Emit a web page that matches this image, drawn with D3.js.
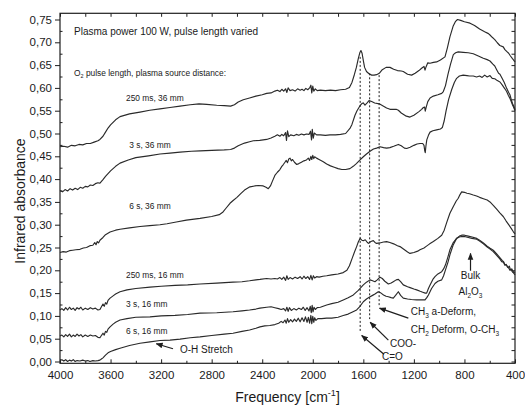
<!DOCTYPE html>
<html>
<head>
<meta charset="utf-8">
<script src="https://cdn.jsdelivr.net/npm/d3@7"></script>
<style>
  body { margin: 0; background: #fff; }
  svg { display: block; }
  text { font-family: "Liberation Sans", Arial, Helvetica, sans-serif; fill: #1a1a1a; }
</style>
</head>
<body>
<svg id="chart" width="525" height="408"></svg>
<script>
// ---- axis ticks ----
const freqMajor = [4000, 3600, 3200, 2800, 2400, 2000, 1600, 1200, 800, 400];
const freqMinor = [3800, 3400, 3000, 2600, 2200, 1800, 1400, 1000, 600];
const absMajor = [0, 0.05, 0.10, 0.15, 0.20, 0.25, 0.30, 0.35, 0.40, 0.45, 0.50, 0.55, 0.60, 0.65, 0.70, 0.75];
const absMinor = [0.025, 0.075, 0.125, 0.175, 0.225, 0.275, 0.325, 0.375, 0.425, 0.475, 0.525, 0.575, 0.625, 0.675, 0.725];

// ---- spectra: [wavenumber cm-1, absorbance] ----
const spec250ms36mm = [
[4000,0.471],[3970,0.472],[3940,0.470],[3910,0.474],[3880,0.473],[3850,0.476],[3820,0.475],[3790,0.478],[3760,0.478],[3730,0.481],[3700,0.484],[3684,0.487],[3660,0.494],[3640,0.503],[3620,0.512],[3600,0.519],[3560,0.530],[3525,0.537],[3450,0.543],[3367,0.547],[3290,0.551],[3209,0.554],[3130,0.557],[3050,0.560],[2970,0.563],[2900,0.565],[2840,0.564],[2760,0.562],[2700,0.561],[2650,0.560],[2620,0.563],[2590,0.569],[2550,0.574],[2500,0.578],[2450,0.582],[2400,0.585],[2365,0.588],[2330,0.589],[2300,0.593],[2280,0.595],[2260,0.592],[2245,0.597],[2230,0.593],[2215,0.598],[2205,0.590],[2195,0.600],[2180,0.594],[2160,0.596],[2140,0.593],[2120,0.598],[2100,0.595],[2085,0.597],[2070,0.594],[2055,0.599],[2040,0.596],[2025,0.600],[2015,0.606],[2008,0.589],[2000,0.604],[1992,0.593],[1980,0.598],[1965,0.594],[1940,0.595],[1900,0.594],[1860,0.595],[1820,0.594],[1780,0.596],[1740,0.597],[1710,0.601],[1690,0.612],[1670,0.630],[1655,0.645],[1640,0.664],[1628,0.677],[1619,0.682],[1610,0.676],[1600,0.660],[1590,0.645],[1575,0.636],[1555,0.631],[1534,0.628],[1515,0.628],[1495,0.629],[1474,0.632],[1450,0.640],[1420,0.645],[1389,0.645],[1360,0.641],[1330,0.638],[1300,0.637],[1284,0.636],[1250,0.630],[1218,0.628],[1190,0.632],[1160,0.638],[1139,0.643],[1120,0.647],[1112,0.639],[1104,0.646],[1090,0.655],[1072,0.654],[1045,0.656],[1020,0.657],[990,0.661],[954,0.668],[935,0.688],[915,0.712],[890,0.735],[870,0.746],[855,0.750],[830,0.748],[800,0.745],[756,0.742],[720,0.737],[680,0.729],[640,0.723],[610,0.719],[598,0.716],[580,0.711],[560,0.706],[540,0.699],[520,0.693],[493,0.690],[480,0.684],[466,0.680],[450,0.676],[436,0.670],[420,0.664],[408,0.660],[400,0.657]
];
const spec3s36mm = [
[4000,0.375],[3980,0.372],[3960,0.377],[3940,0.374],[3920,0.379],[3900,0.376],[3880,0.380],[3860,0.377],[3840,0.382],[3820,0.380],[3800,0.384],[3780,0.383],[3760,0.387],[3740,0.386],[3720,0.390],[3700,0.392],[3684,0.391],[3660,0.399],[3640,0.406],[3620,0.412],[3600,0.418],[3560,0.428],[3525,0.435],[3460,0.442],[3400,0.447],[3300,0.451],[3209,0.455],[3130,0.457],[3050,0.459],[2960,0.461],[2892,0.462],[2800,0.463],[2700,0.464],[2650,0.465],[2620,0.468],[2590,0.473],[2540,0.479],[2500,0.482],[2470,0.484],[2420,0.485],[2365,0.487],[2330,0.490],[2300,0.494],[2280,0.497],[2260,0.494],[2245,0.498],[2230,0.495],[2215,0.502],[2208,0.485],[2200,0.506],[2190,0.493],[2175,0.497],[2150,0.495],[2130,0.498],[2110,0.496],[2090,0.499],[2070,0.497],[2050,0.499],[2030,0.498],[2018,0.505],[2010,0.486],[2004,0.509],[1996,0.490],[1988,0.501],[1970,0.497],[1940,0.497],[1900,0.496],[1864,0.497],[1820,0.497],[1780,0.498],[1740,0.500],[1706,0.511],[1690,0.520],[1666,0.540],[1650,0.550],[1626,0.561],[1610,0.566],[1600,0.567],[1587,0.562],[1570,0.567],[1555,0.572],[1534,0.570],[1510,0.567],[1474,0.565],[1440,0.560],[1416,0.556],[1389,0.553],[1363,0.553],[1340,0.553],[1323,0.551],[1300,0.545],[1260,0.538],[1231,0.536],[1200,0.540],[1160,0.548],[1139,0.553],[1125,0.557],[1115,0.558],[1110,0.549],[1104,0.556],[1090,0.570],[1072,0.578],[1046,0.582],[1010,0.585],[980,0.588],[967,0.592],[950,0.605],[930,0.630],[910,0.652],[888,0.673],[870,0.677],[849,0.679],[810,0.678],[770,0.677],[730,0.675],[690,0.670],[651,0.665],[620,0.662],[598,0.659],[575,0.652],[560,0.648],[545,0.640],[530,0.632],[519,0.630],[500,0.620],[485,0.612],[466,0.599],[450,0.590],[440,0.585],[430,0.575],[420,0.566],[410,0.560],[400,0.552]
];
const spec6s36mm = [
[4000,0.239],[3975,0.241],[3950,0.240],[3925,0.243],[3900,0.244],[3875,0.245],[3842,0.246],[3815,0.249],[3790,0.250],[3763,0.254],[3740,0.255],[3725,0.261],[3715,0.256],[3705,0.263],[3695,0.260],[3684,0.266],[3660,0.272],[3640,0.278],[3604,0.284],[3560,0.288],[3525,0.290],[3450,0.293],[3367,0.296],[3290,0.298],[3209,0.300],[3153,0.302],[3080,0.306],[3000,0.310],[2892,0.314],[2800,0.318],[2740,0.322],[2710,0.328],[2690,0.335],[2655,0.347],[2630,0.353],[2600,0.360],[2570,0.368],[2540,0.376],[2497,0.383],[2460,0.385],[2430,0.386],[2392,0.385],[2370,0.382],[2352,0.379],[2335,0.385],[2320,0.395],[2300,0.408],[2280,0.415],[2260,0.421],[2245,0.428],[2233,0.432],[2220,0.437],[2210,0.441],[2200,0.436],[2190,0.444],[2180,0.446],[2170,0.440],[2160,0.443],[2145,0.437],[2127,0.432],[2110,0.434],[2090,0.437],[2070,0.440],[2050,0.442],[2035,0.446],[2025,0.441],[2015,0.450],[2008,0.443],[2000,0.452],[1992,0.445],[1985,0.449],[1970,0.446],[1950,0.443],[1917,0.438],[1890,0.433],[1860,0.429],[1830,0.426],[1800,0.423],[1770,0.421],[1740,0.421],[1706,0.423],[1680,0.428],[1655,0.434],[1626,0.442],[1600,0.449],[1575,0.455],[1547,0.461],[1520,0.466],[1495,0.468],[1468,0.471],[1440,0.469],[1416,0.468],[1390,0.469],[1360,0.472],[1323,0.476],[1300,0.473],[1275,0.468],[1257,0.467],[1230,0.470],[1200,0.474],[1175,0.477],[1152,0.478],[1130,0.478],[1120,0.474],[1114,0.462],[1110,0.458],[1105,0.472],[1098,0.486],[1085,0.496],[1072,0.503],[1050,0.506],[1020,0.508],[990,0.510],[975,0.513],[960,0.528],[945,0.550],[925,0.575],[900,0.597],[880,0.612],[862,0.621],[840,0.626],[810,0.628],[780,0.627],[760,0.626],[730,0.626],[704,0.624],[680,0.626],[660,0.623],[640,0.628],[620,0.624],[598,0.627],[580,0.621],[560,0.620],[540,0.616],[519,0.613],[500,0.606],[480,0.598],[466,0.592],[453,0.584],[440,0.577],[430,0.570],[420,0.563],[410,0.557],[400,0.550]
];
const spec250ms16mm = [
[4000,0.113],[3985,0.116],[3970,0.112],[3955,0.118],[3940,0.113],[3925,0.119],[3910,0.114],[3895,0.117],[3880,0.112],[3865,0.118],[3850,0.115],[3835,0.119],[3820,0.113],[3800,0.117],[3780,0.114],[3760,0.118],[3740,0.115],[3720,0.117],[3700,0.113],[3684,0.114],[3670,0.121],[3660,0.126],[3650,0.121],[3640,0.129],[3630,0.126],[3620,0.134],[3604,0.139],[3580,0.144],[3560,0.148],[3525,0.153],[3470,0.157],[3400,0.160],[3288,0.163],[3200,0.165],[3090,0.167],[2990,0.168],[2892,0.170],[2760,0.172],[2631,0.174],[2560,0.175],[2500,0.177],[2450,0.179],[2418,0.180],[2365,0.182],[2330,0.181],[2300,0.182],[2280,0.181],[2260,0.184],[2245,0.180],[2230,0.185],[2215,0.178],[2205,0.188],[2195,0.180],[2180,0.184],[2160,0.181],[2140,0.185],[2120,0.182],[2100,0.186],[2085,0.181],[2070,0.187],[2055,0.182],[2040,0.186],[2025,0.180],[2015,0.189],[2005,0.179],[1995,0.188],[1985,0.183],[1970,0.186],[1950,0.185],[1920,0.187],[1890,0.188],[1850,0.190],[1800,0.192],[1759,0.195],[1730,0.200],[1710,0.210],[1690,0.225],[1670,0.240],[1653,0.252],[1640,0.262],[1626,0.270],[1612,0.266],[1600,0.265],[1585,0.267],[1570,0.262],[1560,0.259],[1540,0.263],[1521,0.265],[1508,0.261],[1495,0.259],[1470,0.260],[1440,0.262],[1416,0.263],[1390,0.261],[1360,0.258],[1330,0.254],[1310,0.252],[1280,0.246],[1250,0.240],[1231,0.237],[1200,0.239],[1170,0.242],[1152,0.245],[1120,0.249],[1100,0.253],[1075,0.258],[1046,0.263],[1010,0.270],[980,0.277],[960,0.288],[940,0.305],[915,0.325],[888,0.340],[865,0.352],[849,0.358],[835,0.366],[822,0.372],[800,0.371],[780,0.369],[760,0.368],[730,0.365],[704,0.363],[680,0.360],[650,0.357],[620,0.354],[598,0.350],[570,0.342],[545,0.334],[520,0.326],[493,0.318],[470,0.308],[450,0.300],[430,0.292],[414,0.285],[400,0.280]
];
const spec3s16mm = [
[4000,0.056],[3985,0.058],[3970,0.054],[3955,0.059],[3940,0.055],[3925,0.060],[3910,0.054],[3895,0.058],[3880,0.055],[3865,0.060],[3850,0.056],[3835,0.059],[3820,0.054],[3800,0.058],[3780,0.055],[3760,0.058],[3740,0.056],[3720,0.057],[3700,0.053],[3684,0.052],[3670,0.058],[3660,0.062],[3650,0.058],[3640,0.066],[3630,0.064],[3620,0.071],[3604,0.076],[3580,0.082],[3560,0.086],[3525,0.091],[3470,0.094],[3400,0.097],[3288,0.098],[3200,0.100],[3090,0.101],[2990,0.103],[2892,0.106],[2760,0.107],[2631,0.109],[2560,0.111],[2500,0.113],[2450,0.115],[2418,0.117],[2365,0.119],[2330,0.120],[2300,0.118],[2270,0.116],[2250,0.114],[2230,0.116],[2215,0.111],[2205,0.119],[2195,0.110],[2185,0.118],[2170,0.112],[2150,0.116],[2130,0.113],[2110,0.117],[2090,0.114],[2075,0.119],[2060,0.112],[2045,0.118],[2030,0.111],[2020,0.121],[2012,0.107],[2005,0.123],[1998,0.109],[1990,0.119],[1980,0.114],[1965,0.118],[1940,0.119],[1890,0.124],[1850,0.127],[1800,0.130],[1759,0.135],[1720,0.140],[1679,0.146],[1640,0.156],[1620,0.162],[1600,0.168],[1575,0.174],[1547,0.179],[1527,0.177],[1508,0.175],[1490,0.179],[1468,0.185],[1450,0.182],[1430,0.176],[1402,0.170],[1380,0.172],[1363,0.175],[1340,0.179],[1323,0.180],[1305,0.175],[1284,0.168],[1250,0.164],[1230,0.162],[1200,0.159],[1178,0.157],[1150,0.154],[1130,0.152],[1110,0.150],[1099,0.150],[1085,0.160],[1072,0.168],[1050,0.180],[1033,0.186],[1010,0.192],[980,0.197],[965,0.203],[950,0.212],[930,0.230],[915,0.245],[890,0.260],[862,0.270],[840,0.275],[822,0.277],[800,0.277],[770,0.275],[740,0.273],[703,0.270],[680,0.266],[650,0.260],[620,0.253],[600,0.249],[572,0.244],[545,0.236],[520,0.228],[500,0.221],[490,0.219],[480,0.213],[466,0.211],[455,0.206],[445,0.209],[435,0.201],[425,0.203],[413,0.197],[400,0.195]
];
const spec6s16mm = [
[4000,0.002],[3985,0.004],[3970,0.001],[3955,0.004],[3940,0.000],[3925,0.003],[3910,0.001],[3895,0.004],[3880,0.000],[3865,0.002],[3842,0.001],[3820,0.003],[3800,0.001],[3780,0.002],[3763,0.000],[3740,0.002],[3720,0.001],[3700,0.002],[3684,0.003],[3670,0.006],[3660,0.008],[3640,0.014],[3620,0.019],[3600,0.022],[3560,0.026],[3525,0.029],[3450,0.035],[3367,0.040],[3288,0.043],[3209,0.046],[3130,0.047],[3050,0.049],[2970,0.052],[2892,0.054],[2800,0.057],[2700,0.060],[2631,0.062],[2560,0.066],[2500,0.069],[2450,0.073],[2418,0.076],[2380,0.078],[2340,0.079],[2300,0.081],[2270,0.084],[2250,0.088],[2235,0.085],[2220,0.091],[2210,0.084],[2200,0.094],[2190,0.086],[2175,0.092],[2160,0.087],[2145,0.093],[2130,0.088],[2115,0.095],[2100,0.087],[2085,0.096],[2070,0.088],[2058,0.098],[2045,0.086],[2035,0.097],[2025,0.084],[2015,0.101],[2008,0.083],[2000,0.099],[1992,0.086],[1985,0.096],[1975,0.090],[1960,0.094],[1930,0.094],[1890,0.095],[1850,0.095],[1800,0.097],[1759,0.101],[1720,0.104],[1690,0.108],[1653,0.113],[1630,0.120],[1600,0.131],[1575,0.137],[1547,0.142],[1527,0.145],[1508,0.148],[1482,0.153],[1460,0.150],[1440,0.146],[1420,0.143],[1402,0.142],[1380,0.140],[1363,0.139],[1345,0.145],[1323,0.153],[1305,0.145],[1284,0.139],[1250,0.137],[1220,0.136],[1178,0.135],[1140,0.135],[1112,0.135],[1098,0.140],[1085,0.146],[1060,0.160],[1033,0.171],[1010,0.176],[980,0.179],[965,0.188],[950,0.201],[930,0.218],[915,0.234],[890,0.255],[862,0.270],[840,0.273],[822,0.274],[800,0.274],[770,0.272],[740,0.270],[703,0.268],[680,0.264],[650,0.258],[620,0.251],[600,0.247],[572,0.241],[545,0.233],[520,0.225],[505,0.219],[493,0.218],[480,0.211],[470,0.213],[460,0.207],[450,0.205],[440,0.200],[430,0.202],[420,0.196],[413,0.195],[400,0.190]
];

// series names drawn next to each trace, with their label anchor [cm-1, absorbance]
const seriesNames = ["250 ms, 36 mm", "3 s, 36 mm", "6 s, 36 mm", "250 ms, 16 mm", "3 s, 16 mm", "6 s, 16 mm"];
const seriesData = [spec250ms36mm, spec3s36mm, spec6s36mm, spec250ms16mm, spec3s16mm, spec6s16mm];
const seriesLabelAt = [[3478, 0.572], [3452, 0.4675], [3452, 0.334], [3478, 0.1825], [3478, 0.119], [3478, 0.0605]];

// band positions marked with dotted lines (cm-1) and their vertical extent
const bandFreqs = [1625, 1550, 1475];
const bandTop = [0.668, 0.632, 0.628];
const bandBottom = [0.063, 0.093, 0.122];

// assignment arrows: [from, to] in [cm-1, absorbance]
const assignArrows = [
  [[1437, 0.016], [1613, 0.057]],   // C=O
  [[1402, 0.047], [1546, 0.086]],   // COO-
  [[1244, 0.095], [1472, 0.117]],   // CH3 / CH2 deformations
  [[752, 0.199], [752, 0.237]],     // bulk Al2O3
  [[3106, 0.028], [3238, 0.039]]    // O-H stretch
];

// ---- layout ----
const svg = d3.select("#chart");
const plotL = 60, plotR = 515, plotT = 13.3, plotB = 363.3;
const x = d3.scaleLinear().domain([4000, 400]).range([plotL, plotR]);
const y = d3.scaleLinear().domain([0, 0.75]).range([361.5, 19.5]);
const ink = "#1e1e1e";
const fmtAbs = d3.formatLocale({decimal: ",", thousands: ".", grouping: [3], currency: ["", ""]}).format(".2f");

function styleAxis(g) {
  g.select(".domain").remove();
  g.selectAll(".tick line").attr("stroke", ink).attr("stroke-width", 1);
  g.attr("font-family", null).attr("font-size", null);
  g.selectAll(".tick text").attr("fill", ink).attr("font-size", 11.5);
}

// bottom axis (inward ticks)
svg.append("g").attr("transform", `translate(0,${plotB})`)
  .call(d3.axisBottom(x).tickValues(freqMajor).tickSize(-4).tickPadding(8).tickFormat(d3.format("d")))
  .call(styleAxis);
svg.append("g").attr("transform", `translate(0,${plotB})`)
  .call(d3.axisBottom(x).tickValues(freqMinor).tickSize(-2.5).tickFormat(""))
  .call(styleAxis);
// top axis
svg.append("g").attr("transform", `translate(0,${plotT})`)
  .call(d3.axisTop(x).tickValues(freqMajor.concat(freqMinor)).tickSize(-3.5).tickFormat(""))
  .call(styleAxis);
// left axis (major out, minor in)
svg.append("g").attr("transform", `translate(${plotL},0)`)
  .call(d3.axisLeft(y).tickValues(absMajor).tickSize(5).tickPadding(3).tickFormat(fmtAbs))
  .call(styleAxis);
svg.append("g").attr("transform", `translate(${plotL},0)`)
  .call(d3.axisLeft(y).tickValues(absMinor).tickSize(-2.5).tickFormat(""))
  .call(styleAxis);
// right axis
svg.append("g").attr("transform", `translate(${plotR},0)`)
  .call(d3.axisRight(y).tickValues(absMajor.concat(absMinor)).tickSize(-3.5).tickFormat(""))
  .call(styleAxis);

// frame
svg.append("rect").attr("x", plotL).attr("y", plotT)
  .attr("width", plotR - plotL).attr("height", plotB - plotT)
  .attr("fill", "none").attr("stroke", ink).attr("stroke-width", 1.2);

// spectra
const line = d3.line().x(d => x(d[0])).y(d => y(d[1]));
svg.append("g").selectAll("path").data(seriesData).join("path")
  .attr("d", line)
  .attr("fill", "none").attr("stroke", "#2a2a2a").attr("stroke-width", 1.15)
  .attr("stroke-linejoin", "round");

// dotted band markers
svg.append("g").selectAll("line").data(bandFreqs).join("line")
  .attr("x1", d => x(d)).attr("x2", d => x(d))
  .attr("y1", (d, i) => y(bandTop[i])).attr("y2", (d, i) => y(bandBottom[i]))
  .attr("stroke", ink).attr("stroke-width", 1).attr("stroke-dasharray", "2,2");

// arrowhead marker
svg.append("defs").append("marker")
  .attr("id", "head").attr("viewBox", "0 0 10 10").attr("refX", 9).attr("refY", 5)
  .attr("markerWidth", 7).attr("markerHeight", 7).attr("markerUnits", "userSpaceOnUse")
  .attr("orient", "auto")
  .append("path").attr("d", "M0,1 L10,5 L0,9 Z").attr("fill", ink);

svg.append("g").selectAll("line").data(assignArrows).join("line")
  .attr("x1", d => x(d[0][0])).attr("y1", d => y(d[0][1]))
  .attr("x2", d => x(d[1][0])).attr("y2", d => y(d[1][1]))
  .attr("stroke", ink).attr("stroke-width", 1.2).attr("marker-end", "url(#head)");

// text with sub/superscripts: parts are strings or [string, "sub"|"sup"]
function richText(px, py, parts, size, anchor, transform) {
  const t = svg.append("text").attr("font-size", size).attr("text-anchor", anchor || "start");
  if (transform) t.attr("transform", transform); else t.attr("x", px).attr("y", py);
  let shift = 0;
  parts.forEach(p => {
    const str = typeof p === "string" ? p : p[0];
    const kind = typeof p === "string" ? null : p[1];
    const target = kind === "sub" ? size * 0.3 : kind === "sup" ? -size * 0.4 : 0;
    const ts = t.append("tspan").text(str);
    if (target !== shift) { ts.attr("dy", target - shift); shift = target; }
    if (kind) ts.attr("font-size", size * 0.65);
  });
  return t;
}

// titles inside the plot
richText(x(3889), y(0.716), ["Plasma power 100 W, pulse length varied"], 10);
richText(x(3889), y(0.627), ["O", ["2", "sub"], " pulse length, plasma source distance:"], 8.4);

// series labels
seriesNames.forEach((name, i) => {
  richText(x(seriesLabelAt[i][0]), y(seriesLabelAt[i][1]), [name], 8.4);
});

// band assignments
richText(x(3051), y(0.0186), ["O-H Stretch"], 10);
richText(x(1225), y(0.102), ["CH", ["3", "sub"], " a-Deform,"], 10);
richText(x(1225), y(0.0625), ["CH", ["2", "sub"], " Deform, O-CH", ["3", "sub"]], 10);
richText(x(1389), y(0.0318), ["COO-"], 10);
richText(x(1452), y(0.0033), ["C=O"], 10);
richText(x(752), y(0.181), ["Bulk"], 10, "middle");
richText(x(752), y(0.1458), ["Al", ["2", "sub"], "O", ["3", "sub"]], 10, "middle");

// axis titles
richText(0, 0, ["Infrared absorbance"], 14, "middle", `translate(24.5,201) rotate(-90)`);
richText((plotL + plotR) / 2, 402, ["Frequency [cm", ["-1", "sup"], "]"], 14, "middle");
</script>
</body>
</html>
